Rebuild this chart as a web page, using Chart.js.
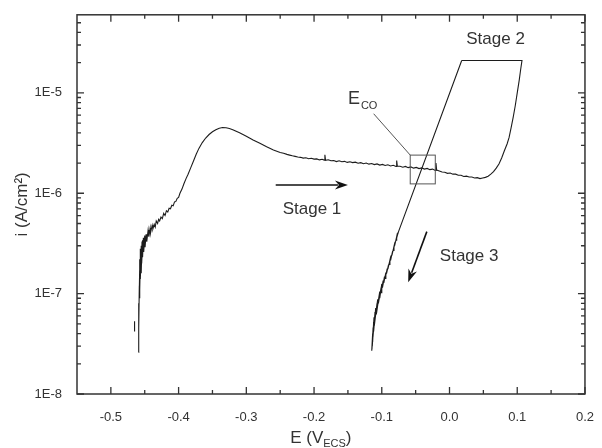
<!DOCTYPE html>
<html><head><meta charset="utf-8">
<script src="https://cdn.jsdelivr.net/npm/chart.js@4/dist/chart.umd.min.js"></script>
<style>html,body{margin:0;padding:0;background:#fff}#wrap{width:602px;height:448px}</style>
</head><body><div id="wrap"><canvas id="c" width="602" height="448"></canvas></div>
<script>
// ---- data (E in V vs ECS, i in A/cm2) ----
const forwardE = [-0.459,-0.4588,-0.4592,-0.4585,-0.459,-0.458,-0.4585,-0.4575,-0.458,-0.457,-0.4572,-0.456,-0.4565,-0.455,-0.4552,-0.454,-0.4545,-0.453,-0.4532,-0.452,-0.4515,-0.450,-0.4495,-0.448,-0.447,-0.445,-0.444,-0.442,-0.4415,-0.439,-0.438,-0.436,-0.4345,-0.433,-0.431,-0.4295,-0.428,-0.426,-0.424,-0.422,-0.420,-0.418,-0.416,-0.414,-0.412,-0.410,-0.408,-0.406,-0.404,-0.402,-0.400,-0.398,-0.395,-0.392,-0.389,-0.386,-0.382,-0.378,-0.374,-0.370,-0.365,-0.360,-0.355,-0.350,-0.345,-0.340,-0.335,-0.330,-0.325,-0.320,-0.315,-0.310,-0.300,-0.290,-0.280,-0.270,-0.260,-0.250,-0.245,-0.240,-0.236,-0.232,-0.228,-0.224,-0.220,-0.216,-0.212,-0.208,-0.204,-0.200,-0.196,-0.192,-0.188,-0.185,-0.184,-0.183,-0.179,-0.175,-0.171,-0.167,-0.163,-0.159,-0.155,-0.151,-0.147,-0.143,-0.139,-0.135,-0.131,-0.127,-0.123,-0.119,-0.115,-0.111,-0.107,-0.103,-0.099,-0.095,-0.091,-0.087,-0.083,-0.079,-0.078,-0.077,-0.073,-0.069,-0.065,-0.061,-0.057,-0.053,-0.049,-0.045,-0.041,-0.037,-0.033,-0.029,-0.025,-0.021,-0.020,-0.019,-0.015,-0.011,-0.007,-0.003,0.001,0.005,0.009,0.013,0.017,0.021,0.025,0.029,0.033,0.037,0.041,0.045,0.049,0.053,0.057,0.061,0.065,0.069,0.073,0.077,0.081,0.085,0.088,0.091,0.094,0.097,0.100,0.103,0.105,0.107,0.018];
const forwardI = [2.6e-8,5.0e-8,3.2e-8,8.0e-8,4.5e-8,1.2e-7,7.0e-8,1.7e-7,9.0e-8,2.2e-7,1.1e-7,2.8e-7,1.4e-7,3.0e-7,1.6e-7,3.3e-7,2.0e-7,3.4e-7,2.3e-7,3.6e-7,2.6e-7,3.8e-7,2.9e-7,3.9e-7,3.3e-7,4.3e-7,3.7e-7,4.5e-7,4.0e-7,4.8e-7,4.4e-7,4.9e-7,4.6e-7,5.3e-7,5.0e-7,5.5e-7,5.3e-7,5.8e-7,5.6e-7,6.3e-7,6.0e-7,6.7e-7,6.5e-7,7.1e-7,7.0e-7,7.6e-7,7.5e-7,8.2e-7,8.3e-7,8.9e-7,9.1e-7,1.0e-6,1.1e-6,1.25e-6,1.4e-6,1.55e-6,1.8e-6,2.1e-6,2.45e-6,2.8e-6,3.2e-6,3.55e-6,3.85e-6,4.1e-6,4.3e-6,4.45e-6,4.52e-6,4.5e-6,4.42e-6,4.3e-6,4.15e-6,4.0e-6,3.7e-6,3.4e-6,3.15e-6,2.9e-6,2.7e-6,2.55e-6,2.5e-6,2.44e-6,2.40e-6,2.36e-6,2.33e-6,2.30e-6,2.28e-6,2.24e-6,2.26e-6,2.21e-6,2.23e-6,2.19e-6,2.20e-6,2.15e-6,2.18e-6,2.14e-6,2.42e-6,2.13e-6,2.16e-6,2.11e-6,2.12e-6,2.07e-6,2.11e-6,2.06e-6,2.08e-6,2.03e-6,2.06e-6,2.02e-6,2.04e-6,1.99e-6,2.02e-6,1.97e-6,2.00e-6,1.95e-6,1.98e-6,1.93e-6,1.96e-6,1.91e-6,1.94e-6,1.89e-6,1.92e-6,1.87e-6,1.90e-6,1.85e-6,2.12e-6,1.86e-6,1.86e-6,1.82e-6,1.85e-6,1.80e-6,1.83e-6,1.78e-6,1.81e-6,1.76e-6,1.79e-6,1.74e-6,1.77e-6,1.72e-6,1.74e-6,1.69e-6,2.0e-6,1.70e-6,1.67e-6,1.63e-6,1.62e-6,1.58e-6,1.59e-6,1.55e-6,1.55e-6,1.51e-6,1.51e-6,1.47e-6,1.48e-6,1.45e-6,1.45e-6,1.42e-6,1.43e-6,1.40e-6,1.42e-6,1.44e-6,1.48e-6,1.55e-6,1.64e-6,1.78e-6,1.96e-6,2.25e-6,2.65e-6,3.1e-6,3.6e-6,4.5e-6,5.7e-6,7.4e-6,1.0e-5,1.35e-5,1.7e-5,2.1e-5,2.1e-5];
const reverseE = [0.018,-0.075,-0.077,-0.076,-0.079,-0.078,-0.081,-0.080,-0.083,-0.082,-0.085,-0.084,-0.087,-0.086,-0.089,-0.088,-0.091,-0.090,-0.093,-0.092,-0.095,-0.094,-0.097,-0.096,-0.099,-0.098,-0.101,-0.100,-0.103,-0.101,-0.105,-0.103,-0.107,-0.104,-0.108,-0.106,-0.110,-0.107,-0.111,-0.109,-0.112,-0.110,-0.113,-0.1115,-0.1135,-0.112,-0.114,-0.1128,-0.1145,-0.1135,-0.1148,-0.1138,-0.1145];
const reverseI = [2.1e-5,4.2e-7,3.8e-7,4.0e-7,3.4e-7,3.7e-7,3.0e-7,3.3e-7,2.7e-7,2.95e-7,2.4e-7,2.65e-7,2.15e-7,2.4e-7,1.95e-7,2.15e-7,1.75e-7,1.95e-7,1.58e-7,1.78e-7,1.42e-7,1.62e-7,1.28e-7,1.48e-7,1.15e-7,1.35e-7,1.02e-7,1.25e-7,9.0e-8,1.15e-7,8.0e-8,1.05e-7,7.0e-8,9.5e-8,6.2e-8,8.8e-8,5.5e-8,8.0e-8,4.8e-8,7.2e-8,4.2e-8,6.5e-8,3.7e-8,5.8e-8,3.3e-8,5.2e-8,3.0e-8,4.6e-8,2.8e-8,4.0e-8,2.7e-8,3.5e-8,2.9e-8];
const strayE = [-0.465,-0.465];
const strayI = [4.2e-8,5.3e-8];
const xTickValues = [-0.5,-0.4,-0.3,-0.2,-0.1,0.0,0.1,0.2];
const yTickValues = [1e-8,1e-7,1e-6,1e-5];
const xLimits = [-0.55,0.2];
const yLimits = [1e-8,6e-5];

// annotation anchors (data coordinates)
const stageLabels = [
  {text:'Stage 1', x:-0.203, y:7.0e-7},
  {text:'Stage 2', x:0.068, y:3.4e-5},
  {text:'Stage 3', x:0.029, y:2.34e-7}
];
const arrows = [
  {from:[-0.2566,1.21e-6], to:[-0.150,1.21e-6]},
  {from:[-0.0335,4.15e-7], to:[-0.061,1.3e-7]}
];
const ecoBox = {x0:-0.058, x1:-0.021, y0:1.24e-6, y1:2.4e-6};
const ecoLeader = {from:[-0.112,6.2e-6], to:[-0.058,2.4e-6]};
const ecoLabel = {x:-0.150, y:7.8e-6};
const xTitleCenterE = -0.190;

const toPts = (xs, ys) => xs.map((x,i)=>({x:x, y:ys[i]}));
const FONT = "'Liberation Sans', Arial, sans-serif";
const INK = '#333';

const decor = {
  id:'decor',
  afterDraw(chart){
    const ctx = chart.ctx, a = chart.chartArea;
    const xs = chart.scales.x, ys = chart.scales.y;
    const px = v => xs.getPixelForValue(v), py = v => ys.getPixelForValue(v);
    ctx.save();
    ctx.strokeStyle = INK; ctx.lineWidth = 1.5;
    ctx.strokeRect(a.left, a.top, a.right-a.left, a.bottom-a.top);
    ctx.lineWidth = 1.3;
    ctx.beginPath();
    for (let k=0;k<xTickValues.length;k++){
      const v = xTickValues[k], X = px(v);
      ctx.moveTo(X,a.bottom); ctx.lineTo(X,a.bottom-7);
      ctx.moveTo(X,a.top); ctx.lineTo(X,a.top+7);
      const m = v - 0.05;
      if (m > xLimits[0]) { const M = px(m);
        ctx.moveTo(M,a.bottom); ctx.lineTo(M,a.bottom-4);
        ctx.moveTo(M,a.top); ctx.lineTo(M,a.top+4); }
    }
    for (let e=-8;e<=-5;e++){
      for (let k=1;k<=9;k++){
        const v = k*Math.pow(10,e);
        if (v < yLimits[0]*0.999 || v > yLimits[1]) continue;
        const Y = py(v), L = (k===1)?7:4;
        ctx.moveTo(a.left,Y); ctx.lineTo(a.left+L,Y);
        ctx.moveTo(a.right,Y); ctx.lineTo(a.right-L,Y);
      }
    }
    ctx.stroke();
    ctx.fillStyle = INK;
    ctx.font = '17px ' + FONT;
    ctx.textBaseline = 'alphabetic';
    ctx.save();
    ctx.translate(27, (a.top+a.bottom)/2);
    ctx.rotate(-Math.PI/2);
    ctx.textAlign = 'center';
    ctx.fillText('i (A/cm\u00B2)', 0, 0);
    ctx.restore();
    const p1 = 'E (V', p2 = 'ECS', p3 = ')';
    ctx.font = '17px ' + FONT; const w1 = ctx.measureText(p1).width, w3 = ctx.measureText(p3).width;
    ctx.font = '11px ' + FONT; const w2 = ctx.measureText(p2).width;
    let sx = px(xTitleCenterE) - (w1+w2+w3)/2, base = 443;
    ctx.textAlign = 'left';
    ctx.font = '17px ' + FONT; ctx.fillText(p1, sx, base); sx += w1;
    ctx.font = '11px ' + FONT; ctx.fillText(p2, sx, base+4); sx += w2;
    ctx.font = '17px ' + FONT; ctx.fillText(p3, sx, base);
    ctx.font = '17px ' + FONT; ctx.textAlign = 'center'; ctx.textBaseline = 'middle';
    stageLabels.forEach(s => ctx.fillText(s.text, px(s.x), py(s.y)));
    ctx.strokeStyle = '#111'; ctx.fillStyle = '#111'; ctx.lineWidth = 1.6;
    arrows.forEach(ar => {
      const x0=px(ar.from[0]), y0=py(ar.from[1]), x1=px(ar.to[0]), y1=py(ar.to[1]);
      const ang = Math.atan2(y1-y0, x1-x0), hl = 13, hw = 4.5;
      const bx = x1 - hl*Math.cos(ang), by = y1 - hl*Math.sin(ang);
      ctx.beginPath(); ctx.moveTo(x0,y0); ctx.lineTo(bx+3*Math.cos(ang),by+3*Math.sin(ang)); ctx.stroke();
      ctx.beginPath();
      ctx.moveTo(x1,y1);
      ctx.lineTo(bx + hw*Math.sin(ang), by - hw*Math.cos(ang));
      ctx.lineTo(bx + 4*Math.cos(ang), by + 4*Math.sin(ang));
      ctx.lineTo(bx - hw*Math.sin(ang), by + hw*Math.cos(ang));
      ctx.closePath(); ctx.fill();
    });
    ctx.strokeStyle = '#555'; ctx.lineWidth = 1;
    const bx0=px(ecoBox.x0), bx1=px(ecoBox.x1), by0=py(ecoBox.y1), by1=py(ecoBox.y0);
    ctx.strokeRect(bx0, by0, bx1-bx0, by1-by0);
    ctx.beginPath();
    ctx.moveTo(px(ecoLeader.from[0]), py(ecoLeader.from[1]));
    ctx.lineTo(px(ecoLeader.to[0]), py(ecoLeader.to[1]));
    ctx.stroke();
    ctx.fillStyle = INK; ctx.textAlign = 'left'; ctx.textBaseline = 'alphabetic';
    const lx = px(ecoLabel.x), ly = py(ecoLabel.y);
    ctx.font = '18px ' + FONT; ctx.fillText('E', lx, ly);
    const we = ctx.measureText('E').width;
    ctx.font = '11px ' + FONT; ctx.fillText('CO', lx+we+1, ly+5);
    ctx.restore();
  }
};

const lineDs = (pts) => ({data:pts, showLine:true, pointRadius:0, borderColor:'#1c1c1c', borderWidth:1.1, tension:0, fill:false});

new Chart(document.getElementById('c'), {
  type:'scatter',
  data:{datasets:[lineDs(toPts(forwardE,forwardI)), lineDs(toPts(reverseE,reverseI)), lineDs(toPts(strayE,strayI))]},
  options:{
    responsive:false, animation:false, devicePixelRatio:1,
    layout:{padding:{top:11, right:10, left:0, bottom:0}},
    plugins:{legend:{display:false}, tooltip:{enabled:false}},
    scales:{
      x:{type:'linear', min:xLimits[0], max:xLimits[1],
        grid:{display:false}, border:{display:false},
        afterBuildTicks:s=>{s.ticks = xTickValues.map(v=>({value:v}));},
        afterFit:s=>{s.height = 54;},
        ticks:{autoSkip:false, maxRotation:0, padding:8, color:INK, font:{size:13, family:FONT},
          callback:v=>Number(v).toFixed(1)}},
      y:{type:'logarithmic', min:yLimits[0], max:yLimits[1],
        grid:{display:false}, border:{display:false},
        afterBuildTicks:s=>{s.ticks = yTickValues.map(v=>({value:v}));},
        afterFit:s=>{s.width = 77;},
        ticks:{autoSkip:false, padding:7, color:INK, font:{size:13, family:FONT},
          callback:v=>'1E' + Math.round(Math.log10(v))}}
    }
  },
  plugins:[decor]
});
</script></body></html>
